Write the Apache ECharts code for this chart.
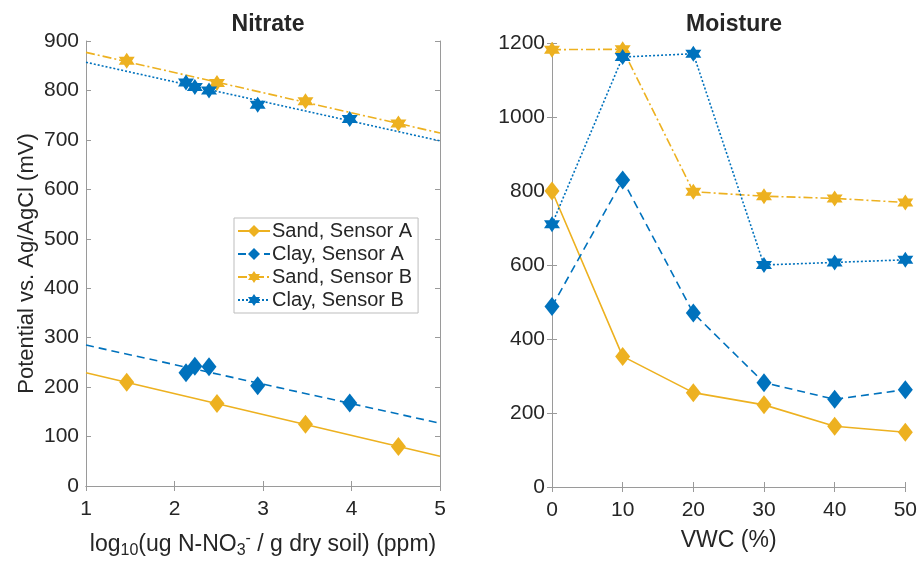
<!DOCTYPE html>
<html>
<head>
<meta charset="utf-8">
<script src="https://cdn.jsdelivr.net/npm/echarts@6/dist/echarts.min.js"></script>
<style>
  html, body { margin: 0; padding: 0; background: #fff; }
  #chart { width: 920px; height: 567px; }
</style>
</head>
<body>
<div id="chart"></div>
<script>
// ---- data ----
var seriesNames = ['Sand, Sensor A', 'Clay, Sensor A', 'Sand, Sensor B', 'Clay, Sensor B'];

// Nitrate panel: [log10 conc, mV]
var nitrateSandA = [[1.46, 210], [2.48, 167], [3.48, 125], [4.53, 80]];
var nitrateClayA = [[2.13, 229], [2.23, 242], [2.39, 241], [2.94, 203], [3.98, 168]];
var nitrateSandB = [[1.46, 860], [2.48, 815], [3.48, 778], [4.53, 733]];
var nitrateClayB = [[2.13, 816], [2.23, 807], [2.39, 800], [2.94, 771], [3.98, 742]];
// fitted lines (end points)
var fitSandA = [[1, 229], [5, 60]];
var fitClayA = [[1, 285], [5, 127]];
var fitSandB = [[1, 877], [5, 714]];
var fitClayB = [[1, 857], [5, 698]];

// Moisture panel
var vwc = [0, 10, 20, 30, 40, 50];
var moistSandA = [800, 353, 255, 222, 164, 148];
var moistClayA = [488, 830, 470, 282, 237, 263];
var moistSandB = [1182, 1183, 798, 786, 780, 769];
var moistClayB = [710, 1162, 1171, 600, 607, 614];

// ---- styles ----
var yellow = '#EDB120';
var blue = '#0072BD';
var axisGray = '#9a9a9a';
var textColor = '#262626';
var font = 'Liberation Sans, Arial, sans-serif';
var hexagram = 'path://M0,-10L2.887,-5L8.66,-5L5.774,0L8.66,5L2.887,5L0,10L-2.887,5L-8.66,5L-5.774,0L-8.66,-5L-2.887,-5Z';

var styles = [
  { color: yellow, type: 'solid', symbol: 'diamond', size: [15, 19] },
  { color: blue, type: [8, 5], symbol: 'diamond', size: [15, 19] },
  { color: yellow, type: [9, 3, 2, 3], symbol: hexagram, size: 16 },
  { color: blue, type: [2, 2], symbol: hexagram, size: 16 }
];

function pair(x) {
  return vwc.map(function (v, i) { return [v, x[i]]; });
}

// main axis with labels + mirrored axis (top/right) to close the box
function boxAxes(gridIndex, min, max, interval, isX) {
  var common = {
    type: 'value', gridIndex: gridIndex, min: min, max: max, interval: interval,
    axisLine: { show: true, lineStyle: { color: axisGray, width: 1 } },
    axisTick: { show: true, inside: true, length: 5, lineStyle: { color: axisGray } },
    splitLine: { show: false }
  };
  var main = Object.assign({}, common, {
    position: isX ? 'bottom' : 'left',
    axisLabel: {
      color: textColor, fontSize: 21, fontFamily: font, margin: isX ? 13 : 7,
      formatter: function (v) { return String(v); }
    }
  });
  var mirror = Object.assign({}, common, {
    position: isX ? 'top' : 'right',
    axisLabel: { show: false }
  });
  return [main, mirror];
}

var xAxes = [].concat(boxAxes(0, 1, 5, 1, true), boxAxes(1, 0, 50, 10, true));
var yAxes = [].concat(boxAxes(0, 0, 900, 100, false), boxAxes(1, 0, 1200, 200, false));

xAxes[0].name = '{a|log}{sub|10}{a|(ug N-NO}{sub|3}{sup|-}{a| / g dry soil) (ppm)}';
xAxes[0].nameLocation = 'middle';
xAxes[0].nameGap = 45;
xAxes[0].nameTextStyle = {
  color: textColor, fontFamily: font,
  rich: {
    a: { fontSize: 23, fontFamily: font, color: textColor },
    sub: { fontSize: 16, fontFamily: font, color: textColor, padding: [12, 0, 0, 0] },
    sup: { fontSize: 16, fontFamily: font, color: textColor, padding: [0, 0, 12, 0] }
  }
};
xAxes[2].name = 'VWC (%)';
xAxes[2].nameLocation = 'middle';
xAxes[2].nameGap = 42;
xAxes[2].nameTextStyle = { color: textColor, fontSize: 23, fontFamily: font };

yAxes[0].name = 'Potential vs. Ag/AgCl (mV)';
yAxes[0].nameLocation = 'middle';
yAxes[0].nameGap = 48;
yAxes[0].nameTextStyle = { color: textColor, fontSize: 22, fontFamily: font };

var series = [];

// moisture series first so legend icons come from line+marker series
[moistSandA, moistClayA, moistSandB, moistClayB].forEach(function (d, i) {
  var s = styles[i];
  series.push({
    name: seriesNames[i], type: 'line', xAxisIndex: 2, yAxisIndex: 2,
    data: pair(d), symbol: s.symbol, symbolSize: s.size, showAllSymbol: true,
    lineStyle: { color: s.color, width: 1.6, type: s.type },
    itemStyle: { color: s.color, opacity: 1 }, z: 3
  });
});

[nitrateSandA, nitrateClayA, nitrateSandB, nitrateClayB].forEach(function (d, i) {
  var s = styles[i];
  series.push({
    name: seriesNames[i], type: 'scatter', xAxisIndex: 0, yAxisIndex: 0,
    data: d, symbol: s.symbol, symbolSize: s.size,
    itemStyle: { color: s.color, opacity: 1 }, z: 4
  });
});

[fitSandA, fitClayA, fitSandB, fitClayB].forEach(function (d, i) {
  var s = styles[i];
  series.push({
    name: 'fit ' + i, type: 'line', xAxisIndex: 0, yAxisIndex: 0,
    data: d, showSymbol: false, silent: true,
    lineStyle: { color: s.color, width: 1.6, type: s.type }, z: 2
  });
});

var chart = echarts.init(document.getElementById('chart'), null, { renderer: 'canvas' });
chart.setOption({
  animation: false,
  backgroundColor: '#fff',
  title: [
    { text: 'Nitrate', left: 263, top: 8, textAlign: 'center',
      textStyle: { fontSize: 23, fontWeight: 'bold', color: textColor, fontFamily: font } },
    { text: 'Moisture', left: 729, top: 8, textAlign: 'center',
      textStyle: { fontSize: 23, fontWeight: 'bold', color: textColor, fontFamily: font } }
  ],
  grid: [
    { left: 86, right: 480, top: 41, bottom: 81 },
    { left: 552, right: 13, top: 43, bottom: 80 }
  ],
  legend: {
    data: seriesNames,
    orient: 'vertical',
    left: 234, top: 218,
    itemWidth: 32, itemHeight: 15, itemGap: 3,
    padding: [3, 6, 3, 3],
    backgroundColor: '#fff',
    borderColor: '#bdbdbd', borderWidth: 1,
    textStyle: { fontSize: 20, fontFamily: font, color: textColor, padding: [0, 0, 0, -3] }
  },
  xAxis: xAxes,
  yAxis: yAxes,
  series: series
});
</script>
</body>
</html>
